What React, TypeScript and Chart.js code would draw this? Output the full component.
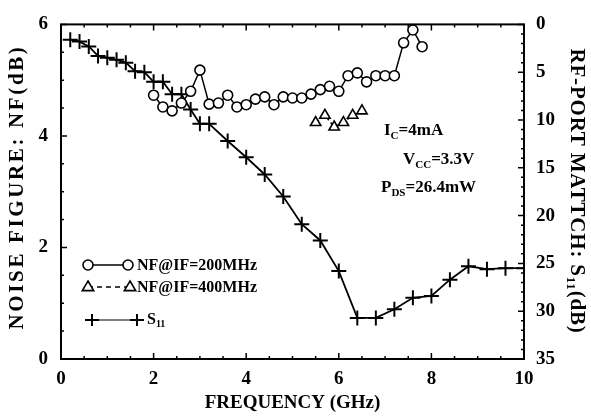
import React, { useEffect, useRef } from "react";
import { Chart, registerables } from "chart.js";

Chart.register(...registerables);

// S11 (right axis, dB)
const S11_FREQ = [0.2, 0.4, 0.6, 0.8, 1.0, 1.2, 1.4, 1.6, 1.8, 2.0, 2.2, 2.4, 2.6, 2.8, 3.0, 3.2, 3.6, 4.0, 4.4, 4.8, 5.2, 5.6, 6.0, 6.4, 6.8, 7.2, 7.6, 8.0, 8.4, 8.8, 9.2, 9.6, 10.0];
const S11_VALUES = [1.6, 1.8, 2.3, 3.3, 3.5, 3.7, 4.0, 4.9, 5.0, 6.0, 6.0, 7.3, 7.3, 8.9, 10.4, 10.4, 12.2, 13.9, 15.7, 18.0, 20.9, 22.6, 25.8, 30.7, 30.7, 29.8, 28.6, 28.4, 26.7, 25.3, 25.6, 25.5, 25.5];

// NF @ IF = 200 MHz (left axis)
const NF200_FREQ = [2.0, 2.2, 2.4, 2.6, 2.8, 3.0, 3.2, 3.4, 3.6, 3.8, 4.0, 4.2, 4.4, 4.6, 4.8, 5.0, 5.2, 5.4, 5.6, 5.8, 6.0, 6.2, 6.4, 6.6, 6.8, 7.0, 7.2, 7.4, 7.6, 7.8];
const NF200_VALUES = [4.73, 4.52, 4.45, 4.59, 4.8, 5.18, 4.57, 4.59, 4.73, 4.52, 4.56, 4.66, 4.7, 4.56, 4.7, 4.68, 4.68, 4.75, 4.83, 4.89, 4.8, 5.08, 5.13, 4.97, 5.08, 5.08, 5.08, 5.67, 5.9, 5.6];

// NF @ IF = 400 MHz (left axis)
const NF400_FREQ = [5.5, 5.7, 5.9, 6.1, 6.3, 6.5];
const NF400_VALUES = [4.24, 4.37, 4.16, 4.24, 4.37, 4.45];

const X_TITLE = "FREQUENCY (GHz)";
const Y_TITLE = "NOISE FIGURE: NF(dB)";
const Y2_TITLE_MAIN = "RF-PORT MATTCH: S";
const Y2_TITLE_SUB = "11";
const Y2_TITLE_END = "(dB)";

const SERIF = '"Liberation Serif", "Times New Roman", serif';

function pts(xs: number[], ys: number[]) {
  return xs.map((x, i) => ({ x, y: ys[i] }));
}

function drawMarker(ctx: CanvasRenderingContext2D, kind: string, x: number, y: number) {
  ctx.save();
  ctx.strokeStyle = "#000";
  ctx.fillStyle = "#fff";
  ctx.setLineDash([]);
  if (kind === "circle") {
    ctx.lineWidth = 1.6;
    ctx.beginPath();
    ctx.arc(x, y, 5, 0, Math.PI * 2);
    ctx.fill();
    ctx.stroke();
  } else if (kind === "triangle") {
    ctx.lineWidth = 1.6;
    const r = 6;
    ctx.beginPath();
    ctx.moveTo(x, y - r);
    ctx.lineTo(x + r * 0.95, y + r * 0.6);
    ctx.lineTo(x - r * 0.95, y + r * 0.6);
    ctx.closePath();
    ctx.fill();
    ctx.stroke();
  } else {
    ctx.lineWidth = 2;
    ctx.beginPath();
    ctx.moveTo(x - 7, y);
    ctx.lineTo(x + 7, y);
    ctx.moveTo(x, y - 6);
    ctx.lineTo(x, y + 6);
    ctx.stroke();
  }
  ctx.restore();
}

// text with subscript: parts = [[text, isSub], ...]
function drawRich(ctx: CanvasRenderingContext2D, parts: [string, boolean][], x: number, y: number, size: number) {
  let cx = x;
  for (const [t, sub] of parts) {
    const fs = sub ? Math.round(size * 0.62) : size;
    ctx.font = `bold ${fs}px ${SERIF}`;
    ctx.fillText(t, cx, sub ? y + size * 0.28 : y);
    cx += ctx.measureText(t).width;
  }
  return cx - x;
}

function richWidth(ctx: CanvasRenderingContext2D, parts: [string, boolean][], size: number) {
  let w = 0;
  for (const [t, sub] of parts) {
    const fs = sub ? Math.round(size * 0.62) : size;
    ctx.font = `bold ${fs}px ${SERIF}`;
    w += ctx.measureText(t).width;
  }
  return w;
}

function countChars(parts: [string, boolean][]) {
  return parts.reduce((n, [t]) => n + t.length, 0);
}

// draw rotated title fitted to a target length using letter spacing
function drawSpacedTitle(ctx: CanvasRenderingContext2D, parts: [string, boolean][], cx: number, cy: number, angle: number, size: number, target: number) {
  ctx.save();
  ctx.translate(cx, cy);
  ctx.rotate(angle);
  ctx.textAlign = "left";
  (ctx as any).letterSpacing = "0px";
  const w0 = richWidth(ctx, parts, size);
  const n = countChars(parts);
  const sp = Math.max(0, (target - w0) / n);
  (ctx as any).letterSpacing = `${sp}px`;
  const w = richWidth(ctx, parts, size);
  drawRich(ctx, parts, -w / 2, 0, size);
  (ctx as any).letterSpacing = "0px";
  ctx.restore();
}

const decorPlugin = {
  id: "decor",
  afterDraw(chart: any) {
    const ctx: CanvasRenderingContext2D = chart.ctx;
    const { left, right, top, bottom } = chart.chartArea;
    const xs = chart.scales.x;
    const ys = chart.scales.y;
    const y2 = chart.scales.y2;
    ctx.save();
    ctx.strokeStyle = "#000";
    ctx.fillStyle = "#000";
    ctx.lineWidth = 2;
    ctx.strokeRect(left, top, right - left, bottom - top);

    // inner ticks
    ctx.lineWidth = 1.5;
    ctx.beginPath();
    for (let v = 0; v <= 10.001; v += 0.5) {
      const px = xs.getPixelForValue(v);
      const len = Math.abs(v % 2) < 0.01 ? 6 : 3;
      ctx.moveTo(px, bottom);
      ctx.lineTo(px, bottom - len);
      ctx.moveTo(px, top);
      ctx.lineTo(px, top + len);
    }
    for (let v = 0; v <= 6.001; v += 0.5) {
      const py = ys.getPixelForValue(v);
      const len = Math.abs(v % 2) < 0.01 ? 6 : 3;
      ctx.moveTo(left, py);
      ctx.lineTo(left + len, py);
    }
    for (let v = 0; v <= 35; v += 1) {
      const py = y2.getPixelForValue(v);
      const len = v % 5 === 0 ? 6 : 3;
      ctx.moveTo(right, py);
      ctx.lineTo(right - len, py);
    }
    ctx.stroke();

    // axis titles
    ctx.textBaseline = "middle";
    ctx.font = `bold 19px ${SERIF}`;
    ctx.textAlign = "center";
    ctx.fillText(X_TITLE, (left + right) / 2, 403);

    drawSpacedTitle(ctx, [[Y_TITLE, false]], 18, 187, -Math.PI / 2, 21, 285);
    drawSpacedTitle(
      ctx,
      [[Y2_TITLE_MAIN, false], [Y2_TITLE_SUB, true], [Y2_TITLE_END, false]],
      576,
      191,
      Math.PI / 2,
      21,
      285
    );

    // annotations
    ctx.textAlign = "left";
    drawRich(ctx, [["I", false], ["C", true], ["=4mA", false]], 384, 131, 17);
    drawRich(ctx, [["V", false], ["CC", true], ["=3.3V", false]], 403, 160, 17);
    drawRich(ctx, [["P", false], ["DS", true], ["=26.4mW", false]], 381, 188, 17);

    // legend
    ctx.lineWidth = 1.5;
    ctx.beginPath();
    ctx.moveTo(88, 265);
    ctx.lineTo(128, 265);
    ctx.stroke();
    drawMarker(ctx, "circle", 88, 265);
    drawMarker(ctx, "circle", 128, 265);
    drawRich(ctx, [["NF@IF=200MHz", false]], 137, 266, 16);

    ctx.beginPath();
    ctx.setLineDash([5, 4]);
    ctx.moveTo(88, 287);
    ctx.lineTo(130, 287);
    ctx.stroke();
    ctx.setLineDash([]);
    drawMarker(ctx, "triangle", 88, 287);
    drawMarker(ctx, "triangle", 130, 287);
    drawRich(ctx, [["NF@IF=400MHz", false]], 137, 288, 16);

    ctx.lineWidth = 1;
    ctx.beginPath();
    ctx.moveTo(92, 320);
    ctx.lineTo(137, 320);
    ctx.stroke();
    drawMarker(ctx, "cross", 92, 320);
    drawMarker(ctx, "cross", 137, 320);
    drawRich(ctx, [["S", false], ["11", true]], 147, 320, 16);

    ctx.restore();
  },
};

export default function App() {
  const ref = useRef<HTMLCanvasElement>(null);
  useEffect(() => {
    if (!ref.current) return;
    const tickFont = { family: SERIF, size: 19, weight: "bold" as const };
    const chart = new Chart(ref.current, {
      type: "line",
      data: {
        datasets: [
          {
            label: "NF@IF=200MHz",
            data: pts(NF200_FREQ, NF200_VALUES),
            yAxisID: "y",
            borderColor: "#000",
            borderWidth: 1.5,
            pointStyle: "circle",
            pointRadius: 5,
            pointBorderWidth: 1.6,
            pointBackgroundColor: "#fff",
            pointBorderColor: "#000",
            tension: 0,
          },
          {
            label: "NF@IF=400MHz",
            data: pts(NF400_FREQ, NF400_VALUES),
            yAxisID: "y",
            borderColor: "#000",
            borderWidth: 1.5,
            borderDash: [4, 3],
            pointStyle: "triangle",
            pointRadius: 6,
            pointBorderWidth: 1.6,
            pointBackgroundColor: "#fff",
            pointBorderColor: "#000",
            tension: 0,
          },
          {
            label: "S11",
            data: pts(S11_FREQ, S11_VALUES),
            yAxisID: "y2",
            borderColor: "#000",
            borderWidth: 1.8,
            pointStyle: "cross",
            pointRadius: 7.5,
            pointBorderWidth: 2,
            pointBorderColor: "#000",
            tension: 0,
          },
        ],
      },
      options: {
        animation: false,
        responsive: false,
        devicePixelRatio: 1,
        layout: { padding: { top: 14, left: 0, right: 0, bottom: 0 }, autoPadding: false },
        plugins: { legend: { display: false }, tooltip: { enabled: false } },
        scales: {
          x: {
            type: "linear",
            min: 0,
            max: 10,
            ticks: { stepSize: 2, font: tickFont, color: "#000", padding: 9, maxRotation: 0 },
            grid: { display: false, drawTicks: false },
            border: { display: false },
            afterFit: (s: any) => {
              s.height = 58;
            },
          },
          y: {
            position: "left",
            min: 0,
            max: 6,
            ticks: { stepSize: 2, font: tickFont, color: "#000", padding: 13 },
            grid: { display: false, drawTicks: false },
            border: { display: false },
            afterFit: (s: any) => {
              s.width = 61;
            },
          },
          y2: {
            position: "right",
            min: 0,
            max: 35,
            reverse: true,
            ticks: { stepSize: 5, font: tickFont, color: "#000", padding: 12 },
            grid: { display: false, drawTicks: false },
            border: { display: false },
            afterFit: (s: any) => {
              s.width = 67;
            },
          },
        },
      },
      plugins: [decorPlugin],
    });
    return () => chart.destroy();
  }, []);
  return (
    <div style={{ position: "fixed", left: 0, top: 0, width: 591, height: 417, background: "#fff" }}>
      <canvas ref={ref} width={591} height={417} style={{ display: "block", width: 591, height: 417 }} />
    </div>
  );
}
